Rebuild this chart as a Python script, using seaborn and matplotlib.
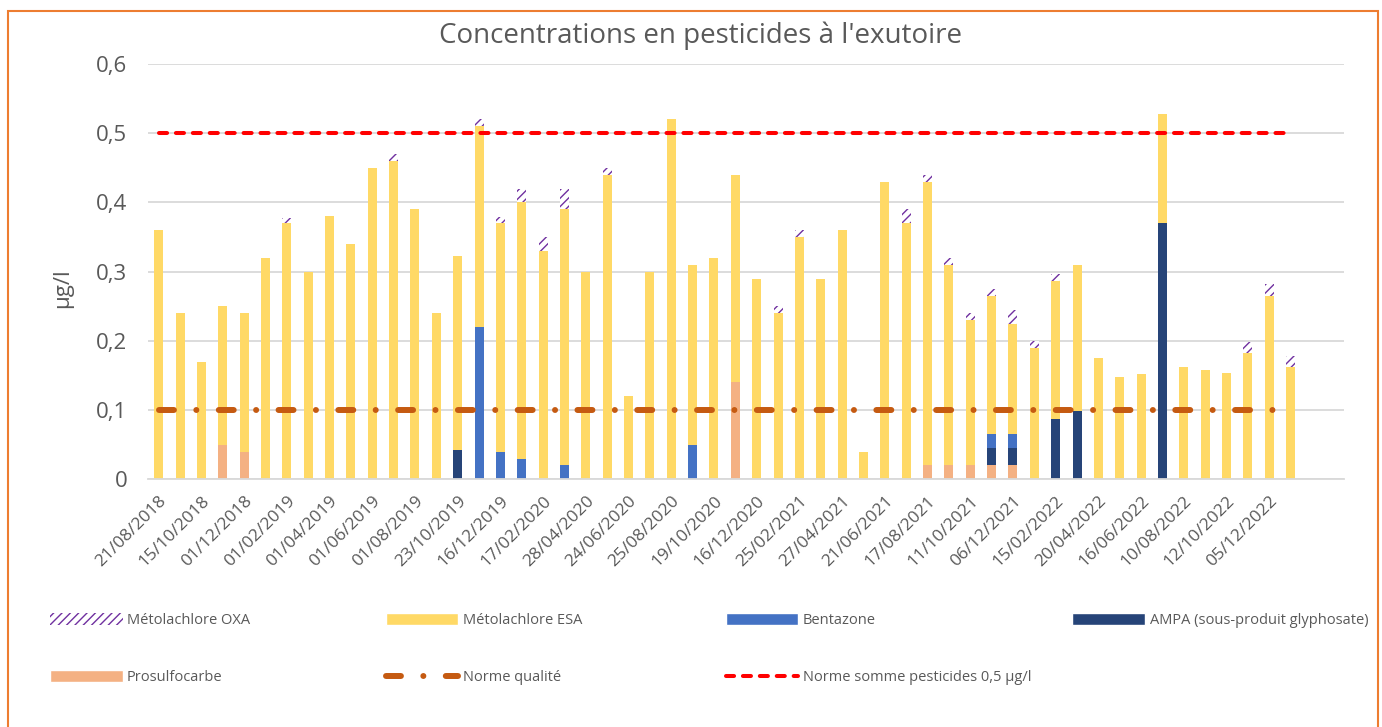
import numpy as np
import pandas as pd
import matplotlib
matplotlib.use('Agg')
import matplotlib.pyplot as plt
import seaborn as sns
from matplotlib.patches import Patch, Rectangle
from matplotlib.lines import Line2D


# one bar per sampling date, only every other date is labelled on the axis
tick_labels = [
    '21/08/2018', '15/10/2018', '01/12/2018', '01/02/2019', '01/04/2019',
    '01/06/2019', '01/08/2019', '23/10/2019', '16/12/2019', '17/02/2020',
    '28/04/2020', '24/06/2020', '25/08/2020', '19/10/2020', '16/12/2020',
    '25/02/2021', '27/04/2021', '21/06/2021', '17/08/2021', '11/10/2021',
    '06/12/2021', '15/02/2022', '20/04/2022', '16/06/2022', '10/08/2022',
    '12/10/2022', '05/12/2022'
]

prosulfocarbe = [
    0, 0, 0, 0.05, 0.04, 0, 0, 0, 0, 0,
    0, 0, 0, 0, 0, 0, 0, 0, 0, 0,
    0, 0, 0, 0, 0, 0, 0, 0.14, 0, 0,
    0, 0, 0, 0, 0, 0, 0.02, 0.02, 0.02, 0.02,
    0.02, 0, 0, 0, 0, 0, 0, 0, 0, 0,
    0, 0, 0, 0
]
ampa = [
    0, 0, 0, 0, 0, 0, 0, 0, 0, 0,
    0, 0, 0, 0, 0.043, 0, 0, 0, 0, 0,
    0, 0, 0, 0, 0, 0, 0, 0, 0, 0,
    0, 0, 0, 0, 0, 0, 0, 0, 0, 0.025,
    0.025, 0, 0.087, 0.098, 0, 0, 0, 0.37, 0, 0,
    0, 0, 0, 0
]
bentazone = [
    0, 0, 0, 0, 0, 0, 0, 0, 0, 0,
    0, 0, 0, 0, 0, 0.22, 0.04, 0.03, 0, 0.02,
    0, 0, 0, 0, 0, 0.05, 0, 0, 0, 0,
    0, 0, 0, 0, 0, 0, 0, 0, 0, 0.02,
    0.02, 0, 0, 0, 0, 0, 0, 0, 0, 0,
    0, 0, 0, 0
]
metolachlore_esa = [
    0.36, 0.24, 0.17, 0.20, 0.20, 0.32, 0.37, 0.30, 0.38, 0.34,
    0.45, 0.46, 0.39, 0.24, 0.28, 0.29, 0.33, 0.37, 0.33, 0.37,
    0.30, 0.44, 0.12, 0.30, 0.52, 0.26, 0.32, 0.30, 0.29, 0.24,
    0.35, 0.29, 0.36, 0.04, 0.43, 0.37, 0.41, 0.29, 0.21, 0.20,
    0.16, 0.19, 0.20, 0.212, 0.175, 0.148, 0.152, 0.158, 0.162, 0.158,
    0.154, 0.182, 0.265, 0.162
]
metolachlore_oxa = [
    0, 0, 0, 0, 0, 0, 0.008, 0, 0, 0,
    0, 0.01, 0, 0, 0, 0.01, 0.009, 0.02, 0.02, 0.03,
    0, 0.01, 0, 0, 0, 0, 0, 0, 0, 0.01,
    0.01, 0, 0, 0, 0, 0.02, 0.01, 0.01, 0.01, 0.01,
    0.02, 0.01, 0.01, 0, 0, 0, 0, 0, 0, 0,
    0, 0.016, 0.017, 0.016
]

norme_qualite = 0.1
norme_somme = 0.5

series_names = ['Prosulfocarbe', 'AMPA (sous-produit glyphosate)', 'Bentazone',
                'Métolachlore ESA', 'Métolachlore OXA']
series_colors = ['#F4B183', '#264478', '#4472C4', '#FFD966', '#7030A0']

df = pd.DataFrame({
    'sample': np.arange(len(metolachlore_esa)),
    'Prosulfocarbe': prosulfocarbe,
    'AMPA (sous-produit glyphosate)': ampa,
    'Bentazone': bentazone,
    'Métolachlore ESA': metolachlore_esa,
    'Métolachlore OXA': metolachlore_oxa,
})
# cumulative tops, drawn from the highest layer down so lower layers cover
cum = df[series_names].cumsum(axis=1)

sns.set_theme(style='white')
plt.rcParams['font.family'] = ['Open Sans', 'DejaVu Sans']
grey = '#595959'

fig = plt.figure(figsize=(13.82, 7.27), dpi=100)
ax = fig.add_axes([0.1071, 0.3407, 0.8654, 0.5713])

n = len(df)
bar_w = 0.42
for name, color in reversed(list(zip(series_names, series_colors))):
    if name == 'Métolachlore OXA':
        sns.barplot(x=df['sample'], y=cum[name], ax=ax, order=range(n),
                    color='white', saturation=1, width=bar_w, errorbar=None,
                    edgecolor=color, hatch='////', linewidth=0)
    else:
        sns.barplot(x=df['sample'], y=cum[name], ax=ax, order=range(n),
                    color=color, saturation=1, width=bar_w, errorbar=None,
                    linewidth=0)

xs = np.arange(n)
ax.plot(xs, np.full(n, norme_qualite), color='#C55A11', lw=4.3,
        dash_capstyle='round', dashes=(2.5, 3.75, 0.01, 3.75), zorder=5)
ax.plot(xs, np.full(n, norme_somme), color='#FF0000', lw=2.9,
        dash_capstyle='round', dashes=(2.0, 2.2), zorder=5)

ax.set_xlim(-0.5, 55.5)
ax.set_ylim(0, 0.6)
ax.set_yticks(np.arange(0, 0.61, 0.1))
ax.set_yticklabels(['0'] + [f'0,{i}' for i in range(1, 7)])
ax.set_xticks(np.arange(0, 2 * len(tick_labels), 2))
ax.set_xticklabels(tick_labels, rotation=45, ha='right', rotation_mode='anchor')
ax.tick_params(axis='y', labelsize=16, colors=grey, length=0, pad=15)
ax.tick_params(axis='x', labelsize=12.5, colors=grey, length=0, pad=10)
ax.yaxis.grid(True, color='#D9D9D9', lw=1.3)
ax.set_axisbelow(True)
for s in ['top', 'right', 'left']:
    ax.spines[s].set_visible(False)
ax.spines['bottom'].set_color('#D9D9D9')
ax.spines['bottom'].set_linewidth(1.3)
ax.set_xlabel('')
ax.set_ylabel('µg/l', fontsize=16, color=grey)
ax.yaxis.set_label_coords(-0.063, 0.46)

fig.text(0.507, 0.951, "Concentrations en pesticides à l'exutoire",
         ha='center', va='center', fontsize=20, color=grey)

# legend: each entry placed on a 4-column grid below the plot
handles = [
    Patch(facecolor='white', edgecolor='#7030A0', hatch='////', linewidth=0),
    Patch(facecolor='#FFD966'),
    Patch(facecolor='#4472C4'),
    Patch(facecolor='#264478'),
    Patch(facecolor='#F4B183'),
    Line2D([], [], color='#C55A11', lw=4.3, dash_capstyle='round',
           dashes=(2.5, 3.75, 0.01, 3.75)),
    Line2D([], [], color='#FF0000', lw=2.9, dash_capstyle='round',
           dashes=(2.0, 2.2)),
]
labels = ['Métolachlore OXA', 'Métolachlore ESA', 'Bentazone',
          'AMPA (sous-produit glyphosate)', 'Prosulfocarbe', 'Norme qualité',
          'Norme somme pesticides 0,5 µg/l']
col_x = [0.036, 0.279, 0.525, 0.776]
row_y = [0.147, 0.068]
for i, (h, lab) in enumerate(zip(handles, labels)):
    fig.legend([h], [lab], loc='center left',
               bbox_to_anchor=(col_x[i % 4], row_y[i // 4]),
               frameon=False, fontsize=10.5, labelcolor=grey,
               handlelength=5.0, handleheight=0.9, handletextpad=0.3,
               borderpad=0, borderaxespad=0)

fig.patches.append(Rectangle((0.0058, -0.02), 0.9914, 1.005,
                             transform=fig.transFigure, fill=False,
                             edgecolor='#ED7D31', lw=1.5))

fig.savefig('out.png', dpi=100)
